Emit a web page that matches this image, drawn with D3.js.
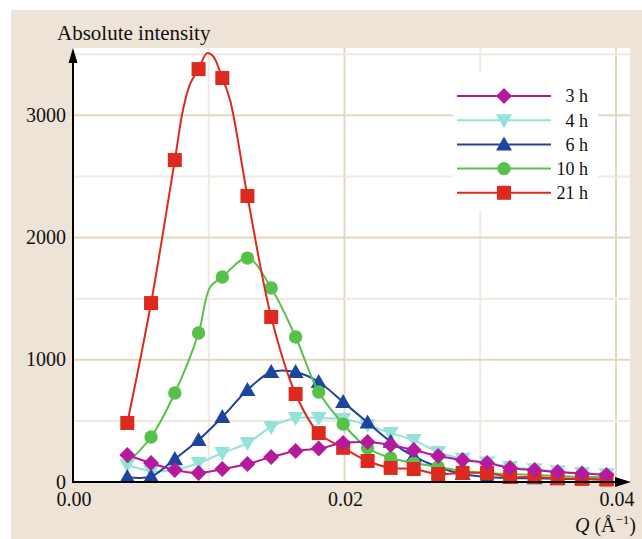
<!DOCTYPE html>
<html>
<head>
<script src="https://d3js.org/d3.v7.min.js"></script>
<style>
  body { margin: 0; background: #fff; }
  svg { display: block; font-family: "Liberation Serif", "DejaVu Serif", serif; }
</style>
</head>
<body>
<svg id="chart" width="642" height="539"></svg>
<script>
// Q positions of the measured points (Å^-1)
const qValues = [0.0040, 0.00575, 0.0075, 0.00925, 0.0110, 0.01285, 0.0146, 0.0164, 0.0181, 0.0199,
  0.0217, 0.0234, 0.0251, 0.0269, 0.0287, 0.0305, 0.0322, 0.0340, 0.0357, 0.0375, 0.0393];

const h3 = [221, 155, 98, 74, 106, 147, 204, 254, 274, 319, 327, 303, 262, 213, 180, 155, 115, 98, 82, 70, 57];
const h4 = [139, 90, 98, 155, 237, 319, 450, 523, 523, 515, 466, 401, 343, 245, 190, 160, 123, 105, 88, 74, 64];
const h6 = [41, 45, 188, 343, 532, 752, 900, 900, 818, 654, 487, 330, 210, 123, 65, 41, 33, 30, 25, 25, 20];
// 10 h: the first point carries the line only (no marker is shown there)
const h10 = [155, 368, 728, 1219, 1677, 1832, 1587, 1186, 736, 474, 278, 196, 155, 123, 90, 74, 65, 57, 49, 41, 41];
const h21 = [483, 1464, 2634, 3378, 3305, 2340, 1350, 720, 400, 280, 172, 115, 106, 65, 74, 74, 41, 41, 30, 25, 20];

// extra points of the drawn curves between markers
const h10Curve = [[0.0101, 1595]];
const h21Curve = [[0.0081, 3043], [0.00862, 3256], [0.00987, 3509], [0.01031, 3485], [0.01157, 3125]];

const labels = ["3 h", "4 h", "6 h", "10 h", "21 h"];
const colors = ["#b51a9c", "#93e3da", "#1f449e", "#57c24a", "#dc2a1e"];
const symbols = ["diamond", "down", "up", "circle", "square"];

const xTicks = [0, 0.02, 0.04];
const yTicks = [0, 1000, 2000, 3000];

const seriesList = [
  { label: labels[0], color: colors[0], sym: symbols[0], vals: h3, extra: [], skip: 0 },
  { label: labels[1], color: colors[1], sym: symbols[1], vals: h4, extra: [], skip: 0 },
  { label: labels[2], color: colors[2], sym: symbols[2], vals: h6, extra: [], skip: 0 },
  { label: labels[3], color: colors[3], sym: symbols[3], vals: h10, extra: h10Curve, skip: 1 },
  { label: labels[4], color: colors[4], sym: symbols[4], vals: h21, extra: h21Curve, skip: 0 }
];

const svg = d3.select("#chart");
const plotLeft = 73, plotRight = 630, plotTop = 48, plotBottom = 482;

const x = d3.scaleLinear().domain([0, 0.04]).range([plotLeft, 616]);
const y = d3.scaleLinear().domain([0, 3000]).range([plotBottom, 115.3]);

// background
svg.append("rect").attr("x", 11).attr("y", 10).attr("width", 631).attr("height", 529).attr("fill", "#ede4d7");
svg.append("rect").attr("x", plotLeft).attr("y", plotTop)
  .attr("width", plotRight - plotLeft).attr("height", plotBottom - plotTop).attr("fill", "#fff");

// grid
const grid = svg.append("g");
[0.01, 0.02, 0.03, 0.04].forEach(v => {
  grid.append("line")
    .attr("x1", x(v)).attr("x2", x(v)).attr("y1", plotTop).attr("y2", plotBottom)
    .attr("stroke", v === 0.02 || v === 0.04 ? "#e4d6c5" : "#f1e9df").attr("stroke-width", 2);
});
[500, 1000, 1500, 2000, 2500, 3000, 3500].forEach(v => {
  grid.append("line")
    .attr("x1", plotLeft).attr("x2", plotRight).attr("y1", y(v)).attr("y2", y(v))
    .attr("stroke", v % 1000 === 0 ? "#e4d6c5" : "#f1e9df").attr("stroke-width", 2);
});

function symbolPath(sym) {
  if (sym === "diamond") return "M0,-8L8,0L0,8L-8,0Z";
  if (sym === "down") return "M-8,-6L8,-6L0,8Z";
  if (sym === "up") return "M-8,6L8,6L0,-8Z";
  if (sym === "square") return "M-7,-7H7V7H-7Z";
  return d3.symbol(d3.symbolCircle, 140)();
}

const line = d3.line().x(d => x(d[0])).y(d => y(d[1])).curve(d3.curveCatmullRom.alpha(0.5));

// draw order as in the figure: 4 h, 6 h, 10 h, 21 h, 3 h
[1, 2, 3, 4, 0].forEach(i => {
  const s = seriesList[i];
  const pts = qValues.map((q, j) => [q, s.vals[j]]);
  const curvePts = pts.concat(s.extra).sort((a, b) => a[0] - b[0]);
  const g = svg.append("g");
  g.append("path").datum(curvePts)
    .attr("d", line).attr("fill", "none").attr("stroke", s.color).attr("stroke-width", 2);
  g.selectAll("path.m").data(pts.slice(s.skip)).enter().append("path")
    .attr("class", "m")
    .attr("transform", d => `translate(${x(d[0])},${y(d[1])})`)
    .attr("d", symbolPath(s.sym))
    .attr("fill", s.color);
});

// legend
const lg = svg.append("g");
lg.append("rect").attr("x", 453).attr("y", 73).attr("width", 145).attr("height", 137).attr("fill", "#fff");
seriesList.forEach((s, i) => {
  const ly = 96 + i * 24.2;
  lg.append("line").attr("x1", 457).attr("x2", 551).attr("y1", ly).attr("y2", ly)
    .attr("stroke", s.color).attr("stroke-width", 2);
  lg.append("path").attr("transform", `translate(504,${ly})`).attr("d", symbolPath(s.sym)).attr("fill", s.color);
  lg.append("text").attr("x", 588).attr("y", ly).attr("dy", "0.35em")
    .attr("text-anchor", "end").attr("font-size", 18).attr("fill", "#111").text(s.label);
});

// axes
svg.append("line").attr("x1", plotLeft).attr("x2", plotLeft).attr("y1", plotBottom + 1).attr("y2", 60)
  .attr("stroke", "#000").attr("stroke-width", 2);
svg.append("path").attr("d", `M${plotLeft},48L${plotLeft - 4.5},63L${plotLeft + 4.5},63Z`).attr("fill", "#000");
svg.append("line").attr("x1", plotLeft - 1).attr("x2", 618).attr("y1", plotBottom).attr("y2", plotBottom)
  .attr("stroke", "#000").attr("stroke-width", 2);
svg.append("path").attr("d", `M631,${plotBottom}L615,${plotBottom - 5}L615,${plotBottom + 5}Z`).attr("fill", "#000");

svg.selectAll("text.yt").data(yTicks).enter().append("text")
  .attr("class", "yt").attr("x", 66).attr("y", d => y(d)).attr("dy", "0.33em")
  .attr("text-anchor", "end").attr("font-size", 20).attr("fill", "#111").text(d => d);
svg.selectAll("text.xt").data(xTicks).enter().append("text")
  .attr("class", "xt").attr("x", d => x(d) + 1).attr("y", 506)
  .attr("text-anchor", "middle").attr("font-size", 20).attr("fill", "#111").text(d => d3.format(".2f")(d));

svg.append("text").attr("x", 57).attr("y", 40).attr("font-size", 21).attr("fill", "#111").text("Absolute intensity");

const xl = svg.append("text").attr("x", 636).attr("y", 532).attr("text-anchor", "end")
  .attr("font-size", 20).attr("fill", "#111");
xl.append("tspan").attr("font-style", "italic").text("Q");
xl.append("tspan").text(" (Å");
xl.append("tspan").attr("font-size", 13).attr("dy", -8).text("−1");
xl.append("tspan").attr("dy", 8).text(")");
</script>
</body>
</html>
